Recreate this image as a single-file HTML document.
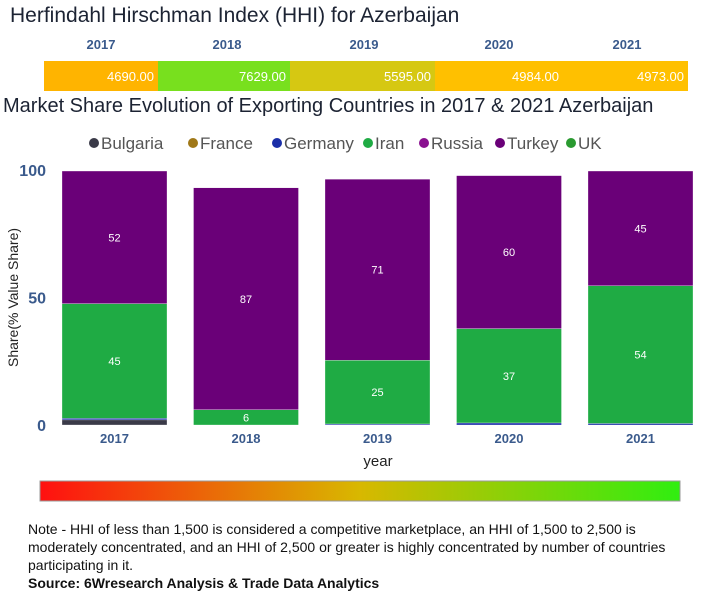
<!DOCTYPE html>
<html><head><meta charset="utf-8"><style>
body{margin:0;width:716px;height:600px;background:#fff;font-family:"Liberation Sans",sans-serif;position:relative;overflow:hidden}
.t{position:absolute;color:#1c2333;white-space:nowrap}
</style></head><body>
<div class="t" style="left:10px;top:4px;font-size:21px">Herfindahl Hirschman Index (HHI) for Azerbaijan</div>
<svg id="hhi" width="716" height="95" style="position:absolute;left:0;top:30px"></svg>
<div class="t" style="left:3px;top:95px;font-size:20px">Market Share Evolution of Exporting Countries in 2017 &amp; 2021 Azerbaijan</div>
<svg id="chart" width="716" height="360" style="position:absolute;left:0;top:125px"></svg>
<svg width="716" height="30" style="position:absolute;left:0;top:475px">
<defs><linearGradient id="g" x1="0" x2="1"><stop offset="0" stop-color="#ff1010"/><stop offset="0.5" stop-color="#d8b800"/><stop offset="1" stop-color="#30ee10"/></linearGradient></defs>
<rect x="40" y="6" width="640" height="20" fill="url(#g)" stroke="#999"/></svg>
<div class="t" style="left:28px;top:520px;font-size:14px;line-height:18px;white-space:normal;width:670px;color:#111">Note - HHI of less than 1,500 is considered a competitive marketplace, an HHI of 1,500 to 2,500 is moderately concentrated, and an HHI of 2,500 or greater is highly concentrated by number of countries participating in it.<br><b>Source: 6Wresearch Analysis &amp; Trade Data Analytics</b></div>
<script>
const years=["2017","2018","2019","2020","2021"];
const hhi=[4690,7629,5595,4984,4973];
const hhiColors=["#ffb400","#78e01e","#d6c812","#ffc000","#ffc000"];
const series=["Bulgaria","France","Germany","Iran","Russia","Turkey","UK"];
const seriesColors=["#3a3a48","#a07818","#1a2ea8","#1fab44","#8a1090","#6a0078","#2a9a30"];
const bulgaria=[2,0,0,0,0];
const france=[0,0,0,0,0];
const germany=[0.6,0,0.4,0.8,0.6];
const iran=[45,6,25,37,54];
const russia=[0,0,0,0,0];
const turkey=[52,87,71,60,45];
const uk=[0,0,0,0,0];
const yTicks=[0,50,100];
const NS="http://www.w3.org/2000/svg";
function mk(p,t,a){const e=document.createElementNS(NS,t);for(const k in a)e.setAttribute(k,a[k]);p.appendChild(e);return e;}
const h=document.getElementById('hhi');
const widths=[114,132,145,128,125];
let x=44;
years.forEach((y,i)=>{
 const w=widths[i];
 const r=mk(h,'rect',{x:x,y:31,width:w,height:30,fill:hhiColors[i]});
 
 const tv=mk(h,'text',{x:x+w-4,y:51,'text-anchor':'end',fill:'#fff','font-size':13});tv.textContent=hhi[i].toFixed(2);
 
 const ty=mk(h,'text',{x:[101,227,364,499,627][i],y:19,'text-anchor':'middle',fill:'#3a5a8c','font-size':13,'font-weight':'bold'});ty.textContent=y;
 
 x+=w;
});
const c=document.getElementById('chart');
const lx=[88,187,271,362,418,494,565];
series.forEach((s,i)=>{
 const g=mk(c,'g',{});
 mk(g,'circle',{cx:lx[i]+6,cy:18,r:5,fill:seriesColors[i]});
 const t=mk(g,'text',{x:lx[i]+13,y:24,fill:'#555','font-size':17});t.textContent=s;
});
const y0=300,pxu=2.55;
const ys=v=>y0-v*pxu;
const bx=i=>62+i*131.5,bw=105;
yTicks.forEach(v=>{const t=mk(c,'text',{x:46,y:ys(v)+6,'text-anchor':'end',fill:'#3a5a8c','font-size':16,'font-weight':'bold'});t.textContent=v;
 });
const yt=mk(c,'text',{transform:'translate(18,'+ys(50)+') rotate(-90)','text-anchor':'middle',fill:'#222','font-size':14});yt.textContent='Share(% Value Share)';

const xt=mk(c,'text',{x:378,y:341,'text-anchor':'middle',fill:'#222','font-size':15});xt.textContent='year';

const data=[bulgaria,france,germany,iran,russia,turkey,uk];
years.forEach((y,i)=>{
 let acc=0;
 data.forEach((arr,s)=>{const v=arr[i];if(!v)return;
  const r=mk(c,'rect',{x:bx(i),y:ys(acc+v),width:bw,height:v*pxu,fill:seriesColors[s],stroke:'#fff','stroke-width':0.3});
  
  if(v>=5){const t=mk(c,'text',{x:bx(i)+bw/2,y:ys(acc+v/2)+4,'text-anchor':'middle',fill:'#fff','font-size':11});t.textContent=Math.round(v);
   }
  acc+=v;});
 const t=mk(c,'text',{x:bx(i)+bw/2,y:y0+18,'text-anchor':'middle',fill:'#3a5a8c','font-size':13,'font-weight':'bold'});t.textContent=y;
 
});
</script>
</body></html>
